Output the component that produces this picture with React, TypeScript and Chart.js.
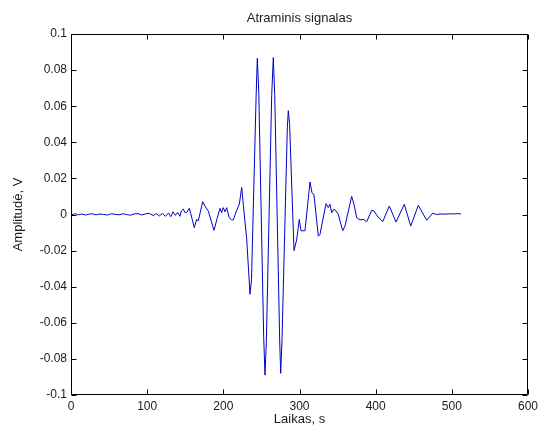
import React, { useEffect, useRef } from 'react';
import { Chart, registerables } from 'chart.js';

Chart.register(...registerables);

// Signal: time (s) and amplitude (V)
const timeS = [
  1, 6, 10, 14, 19, 24, 28, 33, 38, 43, 48, 53, 58, 63, 68, 73, 78, 83, 88, 93,
  98, 103, 108, 112, 116, 120, 124, 128, 131, 134, 137, 140, 143, 145,
  147.4, 149.7, 152, 155.3, 157.2, 161.9, 165, 167.1, 172.9, 175.9, 180.3, 187.7,
  192.1, 195.6, 197.8, 199.9, 202.2, 204.4, 207.8, 211, 213.1, 217.5, 221, 224.1,
  226.2, 230.7, 235, 237, 243, 244.6, 246.5, 253, 254.7, 256.5, 263.5, 265.6,
  267.5, 274, 275.3, 277, 284, 285.3, 287, 292.8, 296.3, 299.7, 302, 307.2,
  313.8, 316.4, 319, 324.7, 326.9, 334.8, 337.8, 340, 342.3, 345.3, 347.9, 350.9,
  356.7, 359.7, 368.5, 371.5, 375.1, 379.4, 383.7, 388.2, 394.8, 397.8, 402.1,
  409.2, 417.9, 426.7, 437.6, 446, 456, 467, 474.9, 480.1, 486, 491, 497, 503,
  508, 512,
];
const amplitudeV = [
  0, 0.0004, -0.0002, 0.0003, -0.0003, 0.0002, 0.0004, -0.0002, 0.0003, 0, -0.0003,
  0.0004, 0.0001, -0.0002, 0.0004, 0, -0.0004, 0.0003, 0.0005, -0.0003,
  0.0004, 0.0006, -0.0006, 0.0005, -0.0008, 0.0006, -0.001, 0.0008, -0.0012, 0.0015,
  -0.0005, 0.0012, -0.001, 0.002,
  0.003, 0.001, 0.0012, 0.0034, 0.0005, -0.0073, -0.0027, -0.0036, 0.0071, 0.0047,
  0.0019, -0.0088,
  -0.0018, 0.0034, 0.001, 0.0038, 0.0015, 0.0038, -0.0018, -0.003, -0.003, 0.0023,
  0.0057, 0.015,
  0.0057, -0.0137, -0.0442, -0.036, 0.065, 0.0865, 0.068, -0.068, -0.089, -0.07,
  0.066, 0.087,
  0.066, -0.07, -0.088, -0.07, 0.048, 0.0575, 0.05, -0.02, -0.014, -0.0027, -0.009,
  -0.009,
  0.018, 0.012, 0.011, -0.012, -0.011, 0.006, 0.0038, 0.0057, 0.001, 0.003, 0.002,
  0.0001,
  -0.009, -0.0064, 0.01, 0.0057, -0.0018, -0.003, -0.0027, -0.004, 0.0023, 0.002,
  -0.0008,
  -0.004, 0.0047, -0.0042, 0.0057, -0.0064, 0.0051, -0.0032, 0.0007, 0, 0.0003,
  0.0002, 0.0004, 0.0003,
  0.0005, 0.0003,
];

const xTickValues = [0, 100, 200, 300, 400, 500, 600];
const yTickValues = [-0.1, -0.08, -0.06, -0.04, -0.02, 0, 0.02, 0.04, 0.06, 0.08, 0.1];

const chartTitle = 'Atraminis signalas';
const xAxisLabel = 'Laikas, s';
const yAxisLabel = 'Amplitudė, V';

const FONT = "'Liberation Sans', Arial, Helvetica, sans-serif";
const TEXT = '#1a1a1a';

const boxAndTitle = {
  id: 'boxAndTitle',
  afterDatasetsDraw(chart: any) {
    const { ctx, chartArea: a, scales } = chart;
    const xs = scales.x;
    const ys = scales.y;
    const L = Math.round(a.left) + 0.5;
    const R = Math.round(a.right) - 0.5;
    const T = Math.round(a.top) + 0.5;
    const B = Math.round(a.bottom) - 0.5;
    const len = 5;
    ctx.save();
    ctx.strokeStyle = '#000';
    ctx.lineWidth = 1;
    ctx.beginPath();
    ctx.rect(L, T, R - L, B - T);
    for (const v of xTickValues) {
      const px = Math.round(xs.getPixelForValue(v)) + 0.5;
      ctx.moveTo(px, B);
      ctx.lineTo(px, B - len);
      ctx.moveTo(px, T);
      ctx.lineTo(px, T + len);
    }
    for (const v of yTickValues) {
      const py = Math.round(ys.getPixelForValue(v)) + 0.5;
      ctx.moveTo(L, py);
      ctx.lineTo(L + len, py);
      ctx.moveTo(R, py);
      ctx.lineTo(R - len, py);
    }
    ctx.stroke();
    // title centred over the plot area
    ctx.fillStyle = TEXT;
    ctx.font = `13px ${FONT}`;
    ctx.textAlign = 'center';
    ctx.textBaseline = 'middle';
    ctx.fillText(chartTitle, (a.left + a.right) / 2, 18);
    ctx.restore();
  },
};

export default function App() {
  const ref = useRef<HTMLCanvasElement | null>(null);

  useEffect(() => {
    if (!ref.current) return;
    const points = timeS.map((t, i) => ({ x: t, y: amplitudeV[i] }));
    const chart = new Chart(ref.current, {
      type: 'line',
      data: {
        datasets: [
          {
            data: points,
            borderColor: '#0000c8',
            borderWidth: 1,
            pointRadius: 0,
            tension: 0,
            fill: false,
          },
        ],
      },
      options: {
        animation: false,
        responsive: false,
        devicePixelRatio: 1,
        layout: { padding: { left: 0, right: 17, top: 34, bottom: 0 } },
        plugins: {
          legend: { display: false },
          tooltip: { enabled: false },
          title: { display: false },
        },
        scales: {
          x: {
            type: 'linear',
            min: 0,
            max: 600,
            afterBuildTicks: (s: any) => {
              s.ticks = xTickValues.map((value) => ({ value }));
            },
            afterFit: (s: any) => {
              s.height = 38;
            },
            grid: { display: false, drawTicks: false },
            border: { display: false },
            ticks: {
              padding: 4,
              color: TEXT,
              maxRotation: 0,
              autoSkip: false,
              font: { family: FONT, size: 12 },
            },
            title: {
              display: true,
              text: xAxisLabel,
              color: TEXT,
              font: { family: FONT, size: 13 },
              padding: { top: 0, bottom: 6 },
            },
          },
          y: {
            type: 'linear',
            min: -0.1,
            max: 0.1,
            afterBuildTicks: (s: any) => {
              s.ticks = yTickValues.map((value) => ({ value }));
            },
            afterFit: (s: any) => {
              s.width = 71;
            },
            grid: { display: false, drawTicks: false },
            border: { display: false },
            ticks: {
              padding: 4,
              color: TEXT,
              autoSkip: false,
              font: { family: FONT, size: 12 },
              callback: (v: any) => String(Number(Number(v).toFixed(2))),
            },
            title: {
              display: true,
              text: yAxisLabel,
              color: TEXT,
              font: { family: FONT, size: 13 },
              padding: { top: 11, bottom: 0 },
            },
          },
        },
      },
      plugins: [boxAndTitle],
    });
    return () => chart.destroy();
  }, []);

  return (
    <div style={{ position: 'fixed', left: 0, top: 0, width: 545, height: 433, background: '#fff' }}>
      <canvas ref={ref} width={545} height={433} style={{ display: 'block' }} />
    </div>
  );
}
